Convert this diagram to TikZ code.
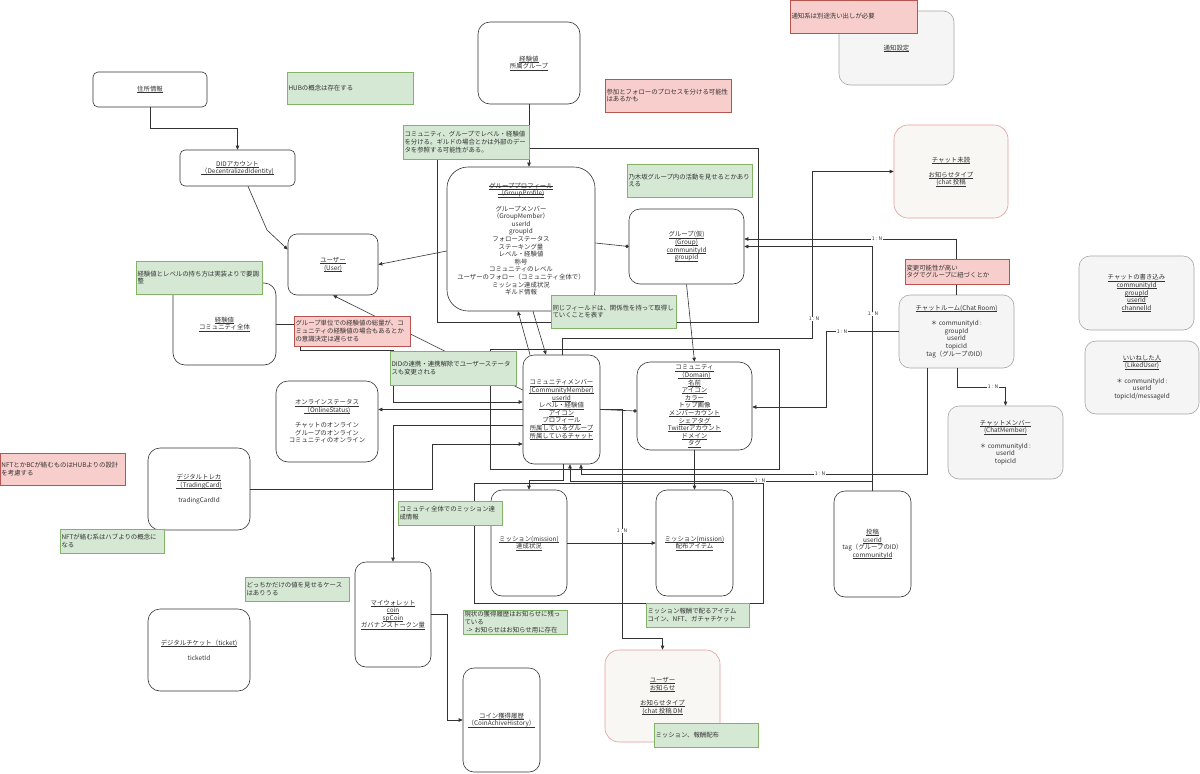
\documentclass[tikz,border=0pt]{standalone}
\usepackage{fontspec}
\setmainfont{Noto Sans CJK JP}
\usetikzlibrary{arrows.meta}
\definecolor{gnfill}{HTML}{D5E8D4}
\definecolor{gnline}{HTML}{82B366}
\definecolor{rdfill}{HTML}{F8CECC}
\definecolor{rdline}{HTML}{B85450}
\definecolor{gyfill}{HTML}{F5F5F5}
\definecolor{gyline}{HTML}{A6A6A6}
\definecolor{pkfill}{HTML}{F8F7F4}
\definecolor{pkline}{HTML}{E39C9C}
\definecolor{ink}{HTML}{333333}
\newsavebox\ulbox
\newcommand{\uln}[1]{\sbox\ulbox{#1}\rlap{\rule[-1.1pt]{\wd\ulbox}{0.35pt}}\usebox\ulbox}
\newsavebox\stkbox
\newcommand{\stk}[1]{\sbox\stkbox{#1}\rlap{\rule[0.3em]{\wd\stkbox}{0.35pt}}\usebox\stkbox}
\tikzset{
  every node/.style={font={\fontsize{6.4}{7.6}\selectfont\lineskiplimit=-10pt}, text=ink},
  box/.style={draw=ink, line width=0.6pt, fill=white, align=center, inner sep=1pt},
  gbox/.style={box, draw=gyline, fill=gyfill},
  pbox/.style={box, draw=pkline, fill=pkfill},
  gnote/.style={draw=gnline, fill=gnfill, line width=0.6pt, align=left, inner xsep=1.5pt, inner ysep=0pt},
  rnote/.style={gnote, draw=rdline, fill=rdfill},
  cont/.style={draw=ink, line width=0.6pt},
  line/.style={draw=ink, line width=0.6pt},
  arr/.style={line, -{Triangle[length=4pt,width=3.5pt]}},
  dot/.style={line, -{Circle[length=3.5pt]}},
  lab/.style={fill=white, inner sep=0.5pt, font=\fontsize{5}{6}\selectfont}
}
\begin{document}
\begin{tikzpicture}[x=1pt,y=-1pt]
\useasboundingbox (0,0) rectangle (1200,774);
\fill[white] (0,0) rectangle (1200,774);

% containers
\draw[cont] (437,148) rectangle (758,322);
\draw[cont] (490,349) rectangle (779,469);
\draw[cont] (474,483) rectangle (763,603);

% boxes
\node[box, minimum width=114pt, minimum height=35pt, rounded corners=5pt] (addr) at (150,89.5) {\uln{住所情報}};
\node[box, minimum width=102pt, minimum height=82pt, rounded corners=12pt] (expgrp) at (529,63) {\uln{経験値}\\\uln{所属グループ}};
\node[gbox, minimum width=115pt, minimum height=74pt, rounded corners=11pt] (notifset) at (896.5,48) {\uln{通知設定}};
\node[box, minimum width=115pt, minimum height=36pt, rounded corners=5pt] (did) at (237.5,168) {\uln{DIDアカウント}\\\uln{（DecentralizedIdentity)}};
\node[box, minimum width=148pt, minimum height=144pt, rounded corners=21pt] (gprof) at (521,239) {\uln{\stk{グループプロフィール}}\\\uln{\stk{（GroupProfile)}}\\[7.6pt]グループメンバー\\（GroupMember）\\userId\\groupId\\フォローステータス\\ステーキング量\\レベル・経験値\\称号\\コミュニティのレベル\\ユーザーのフォロー（コミュニティ全体で）\\ミッション達成状況\\ギルド情報};
\node[box, minimum width=115pt, minimum height=75pt, rounded corners=11pt] (group) at (686.5,246.5) {\uln{グループ(仮)}\\\uln{(Group)}\\\uln{communityId}\\\uln{groupId}};
\node[box, minimum width=90pt, minimum height=61pt, rounded corners=9pt] (user) at (333,264.5) {\uln{ユーザー}\\\uln{(User)}};
\node[box, minimum width=103pt, minimum height=82pt, rounded corners=12pt] (expcomm) at (224.5,324) {\uln{経験値}\\\uln{コミュニティ全体}};
\node[box, minimum width=77pt, minimum height=109pt, rounded corners=11pt] (cm) at (561.5,409.5) {\uln{コミュニティメンバー}\\\uln{(CommunityMember)}\\\uln{userId}\\\uln{レベル・経験値}\\\uln{アイコン}\\\uln{プロフィール}\\\uln{所属しているグループ}\\\uln{所属しているチャット}};
\node[box, minimum width=115pt, minimum height=88pt, rounded corners=13pt] (comm) at (694.5,406) {\uln{コミュニティ}\\\uln{（Domain)}\\\uln{名前}\\\uln{アイコン}\\\uln{カラー}\\\uln{トップ画像}\\\uln{メンバーカウント}\\\uln{シェアタグ}\\\uln{Twitterアカウント}\\\uln{ドメイン}\\\uln{タグ}};
\node[box, minimum width=102pt, minimum height=81pt, rounded corners=12pt] (online) at (327,421.5) {\uln{オンラインステータス}\\\uln{（OnlineStatus)}\\[7.6pt]チャットのオンライン\\グループのオンライン\\コミュニティのオンライン};
\node[box, minimum width=102pt, minimum height=82pt, rounded corners=12pt] (card) at (199,489) {\uln{デジタルトレカ}\\\uln{（TradingCard)}\\[7.6pt]tradingCardId};
\node[box, minimum width=102pt, minimum height=82pt, rounded corners=12pt] (ticket) at (199,650) {\uln{デジタルチケット（ticket)}\\[7.6pt]ticketId};
\node[box, minimum width=76pt, minimum height=105pt, rounded corners=11pt] (wallet) at (393,614.5) {\uln{マイウォレット}\\\uln{coin}\\\uln{spCoin}\\\uln{ガバナンストークン量}};
\node[box, minimum width=76pt, minimum height=106pt, rounded corners=11pt] (miss1) at (529,543) {\uln{ミッション(mission)}\\\uln{達成状況}};
\node[box, minimum width=77pt, minimum height=106pt, rounded corners=11pt] (miss2) at (694.5,543) {\uln{ミッション(mission)}\\\uln{配布アイテム}};
\node[box, minimum width=77pt, minimum height=104pt, rounded corners=11pt] (coinhist) at (501.5,720) {\uln{コイン獲得履歴}\\\uln{（CoinAchiveHistory）}};
\node[pbox, minimum width=115pt, minimum height=92pt, rounded corners=14pt] (unotif) at (662.5,696) {\uln{ユーザー}\\\uln{お知らせ}\\[7.6pt]\uln{お知らせタイプ}\\\uln{(chat 投稿 DM}};
\node[pbox, minimum width=114pt, minimum height=93pt, rounded corners=14pt] (chatunread) at (951,171.5) {\uln{チャット未読}\\[7.6pt]\uln{お知らせタイプ}\\\uln{(chat 投稿}};
\node[gbox, minimum width=115pt, minimum height=73pt, rounded corners=11pt] (chatroom) at (956.5,331.5) {\uln{チャットルーム(Chat Room)}\\[7.6pt]＊ communityId :\\groupId\\userId\\topicId\\tag（グループのID）};
\node[gbox, minimum width=115pt, minimum height=73pt, rounded corners=11pt] (chatmember) at (1005.5,442.5) {\uln{チャットメンバー}\\\uln{(ChatMember)}\\[7.6pt]＊ communityId :\\userId\\topicId};
\node[gbox, minimum width=115pt, minimum height=74pt, rounded corners=11pt] (chatwrite) at (1136.5,293) {\uln{チャットの書き込み}\\\uln{communityId}\\\uln{groupId}\\\uln{userId}\\\uln{channelId}};
\node[gbox, minimum width=114pt, minimum height=73pt, rounded corners=11pt] (liked) at (1142,377.5) {\uln{いいねした人}\\\uln{(LikedUser)}\\[7.6pt]＊ communityId :\\userId\\topicId/messageId};
\node[box, minimum width=77pt, minimum height=106pt, rounded corners=11pt] (post) at (872.5,544) {\uln{投稿}\\\uln{userId}\\tag（グループのID）\\\uln{communityId}};

% connectors
\draw[arr] (addr.south) -- ++(0,21) -| (did.north);
\draw[arr] ([xshift=10.5pt]did.south) -- (267,230) -- ([yshift=15pt]user.west);
\draw[arr] ([yshift=-12pt]gprof.west) -- (user.east);
\draw[arr] (expgrp.south) -- (expgrp.south |- gprof.north);
\draw[dot] ([yshift=-4pt]gprof.east) -- (group.west);
\draw[arr] (group.south) -- (comm.north);
\draw[arr] (expcomm.east) -- (300,324) -- (300,350) -- (393,350) -- (393,402) -- ([yshift=7.5pt]cm.west);
\draw[arr] ([yshift=19.5pt]cm.west) -- (user.south);
\draw[arr] ([xshift=-31.5pt]cm.north) -- ([xshift=-3pt]gprof.south);
\draw[arr] ([xshift=12pt]gprof.south) -- ([xshift=-15.5pt]cm.north);
\draw[arr] ([xshift=0.5pt]cm.north) |- (812,338) |- (chatunread.west);
\node[lab] (l1) at (814,319) {1 : N};
\draw[arr] (cm.west) -- (cm.west -| online.east);
\draw[arr] ([yshift=-16pt]cm.west) -| (wallet.north);
\draw[arr] (card.east) -- (432,489) |- ([yshift=-34.5pt]cm.west);
\draw[dot] (cm.east) -- ([yshift=-5pt]comm.west);
\draw[arr] (cm.east) -- (622,409.5) -- (622,638) -| (unotif.north);
\node[lab] (l2) at (622,531) {1 : N};
\draw[arr] ([xshift=-29.5pt]chatroom.south) -- (927,474) -- (581,474) -- ([xshift=19.5pt]cm.south);
\node[lab] (l3) at (820,474) {1 : N};
\draw[arr] (post.north) -- (872.5,481) -- (570,481) -- ([xshift=8.5pt]cm.south);
\node[lab] (l4) at (760,481) {1 : N};
\draw[arr] (post.north) -- (872.5,246.5) -- (group.east);
\node[lab] (l5) at (873,314) {1 : N};
\draw[arr] (chatroom.north) -- (956.5,239) -- ([yshift=7.5pt]group.east);
\node[lab] (l6) at (877,239) {1 : N};
\draw[arr] (chatroom.west) -- (826,331.5) -- (826,407) -- ([yshift=-1pt]comm.east);
\node[lab] (l7) at (842,332) {1 : N};
\draw[arr] ([xshift=0.5pt]chatroom.south) -- (957,387) -- (1005.5,387) -- (chatmember.north);
\node[lab] (l8) at (993,387) {1 : N};
\draw[arr] (comm.south) -- (miss2.north);
\draw[arr] ([xshift=1.5pt]cm.south) -- (563,480) -- (529,480) -- (miss1.north);
\draw[arr] (miss1.east) -- (miss2.west);
\draw[arr] (wallet.east) -- (447,614.5) |- (coinhist.west);

% notes
\node[gnote, text width=123pt, minimum height=32pt] (hubn) at (350,88) {HUBの概念は存在する};
\node[gnote, text width=123pt, minimum height=34pt] (leveln) at (466,142) {コミュニティ、グループでレベル・経験値\\を分ける。ギルドの場合とかは外部のデー\\タを参照する可能性がある。};
\node[gnote, text width=122pt, minimum height=33pt] (nogin) at (689.5,180.5) {乃木坂グループ内の活動を見せるとかあり\\える};
\node[gnote, text width=122pt, minimum height=33pt] (samen) at (613.5,311.5) {同じフィールドは、関係性を持って取得し\\ていくことを表す};
\node[gnote, text width=123pt, minimum height=33pt] (impln) at (199,277.5) {経験値とレベルの持ち方は実装よりで要調\\整};
\node[gnote, text width=123pt, minimum height=34pt] (didn) at (453,368) {DIDの連携・連携解除でユーザーステータ\\スも変更される};
\node[gnote, text width=101pt, minimum height=24pt] (nft2n) at (112,541) {NFTが絡む系はハブよりの概念に\\なる};
\node[gnote, text width=101pt, minimum height=24pt] (eithern) at (297,589) {どっちかだけの値を見せるケース\\はありうる};
\node[gnote, text width=101pt, minimum height=24pt] (missn) at (450,513) {コミュティ全体でのミッション達\\成情報};
\node[gnote, text width=101pt, minimum height=24pt] (histn) at (515,622) {現状の獲得履歴はお知らせに残っ\\ている\\\ -> お知らせはお知らせ用に存在};
\node[gnote, text width=100pt, minimum height=24pt] (rewardn) at (697.5,615) {ミッション報酬で配るアイテム\\コイン、NFT、ガチャチケット};
\node[gnote, text width=101pt, minimum height=24pt] (distn) at (706,735) {ミッション、報酬配布};
\node[rnote, text width=123pt, minimum height=33pt] (joinn) at (668,95.5) {参加とフォローのプロセスを分ける可能性\\はあるかも};
\node[rnote, text width=124pt, minimum height=33pt] (notifn) at (853.5,16.5) {通知系は別途洗い出しが必要};
\node[rnote, text width=113pt, minimum height=30pt] (delayn) at (352,331) {グループ単位での経験値の総量が、コ\\ミュニティの経験値の場合もあるとか\\の意識決定は遅らせる};
\node[rnote, text width=122pt, minimum height=32pt] (nftn) at (62.5,469) {NFTとかBCが絡むものはHUBよりの設計\\を考慮する};
\node[rnote, text width=101pt, minimum height=25pt] (changen) at (957,271.5) {変更可能性が高い\\タグでグループに紐づくとか};
\end{tikzpicture}
\end{document}
